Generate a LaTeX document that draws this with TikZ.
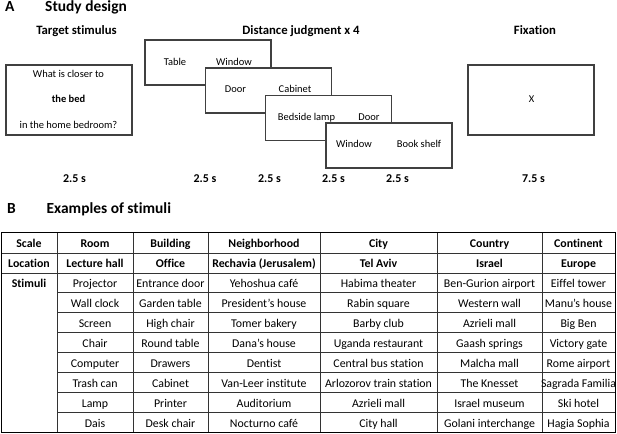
\documentclass[tikz,border=0pt]{standalone}
\usepackage{fontspec}
\setmainfont{Carlito}[Ligatures={TeX,NoCommon}]
\begin{document}
\begin{tikzpicture}[x=1bp,y=-1bp,
  scr/.style={draw=black!75,line width=1.2bp,fill=white,inner sep=0,outer sep=0,anchor=north west},
  boxtxt/.style={font=\fontsize{10.5}{12}\selectfont,inner sep=0,anchor=base},
  panel/.style={font=\fontsize{15.5}{18}\selectfont\bfseries,inner sep=0,anchor=base west},
  subhead/.style={font=\fontsize{12.8}{15}\selectfont\bfseries,inner sep=0,anchor=base},
  timetxt/.style={font=\fontsize{12}{14}\selectfont\bfseries,inner sep=0,anchor=base},
  cell/.style={font=\fontsize{11.9}{14}\selectfont,inner sep=0,anchor=base},
  grid/.style={draw=black!80,line width=0.9bp}]
\useasboundingbox[fill=white] (0,0) rectangle (617,434);

% ---------- Panel A ----------
\node[panel] (pA) at (5,12) {A};
\node[panel] (pAt) at (45,12) {Study design};

\node[subhead] (h1) at (76.5,35) {Target stimulus};
\node[subhead] (h2) at (301,35) {Distance judgment x 4};
\node[subhead] (h3) at (535,35) {Fixation};

% target stimulus screen
\node[scr,minimum width=126bp,minimum height=70bp] (target) at (6,65) {};
\node[boxtxt] (q1) at (68.5,78) {What is closer to};
\node[boxtxt] (q2) at (68.5,103) {\bfseries the bed};
\node[boxtxt] (q3) at (68.5,129) {in the home bedroom?};

% distance judgment screens
\node[scr,minimum width=126bp,minimum height=45bp] (d1) at (145,40) {};
\node[boxtxt] (d1a) at (175,66) {Table};
\node[boxtxt] (d1b) at (234,66) {Window};

\node[scr,minimum width=126bp,minimum height=45bp] (d2) at (205.5,68) {};
\node[boxtxt] (d2a) at (235.5,93) {Door};
\node[boxtxt] (d2b) at (295,93) {Cabinet};

\node[scr,minimum width=126bp,minimum height=45bp] (d3) at (265.5,95.5) {};
\node[boxtxt] (d3a) at (306.5,121) {Bedside lamp};
\node[boxtxt] (d3b) at (369,121) {Door};

\node[scr,minimum width=126bp,minimum height=45bp] (d4) at (326,123) {};
\node[boxtxt] (d4a) at (354,148) {Window};
\node[boxtxt] (d4b) at (419,148) {Book shelf};

% fixation screen
\node[scr,minimum width=126bp,minimum height=70bp] (fix) at (468,65) {};
\node[boxtxt] (fx) at (531.5,103) {X};

% timings
\node[timetxt] (t1) at (74.5,183) {2.5 s};
\node[timetxt] (t2) at (205,183) {2.5 s};
\node[timetxt] (t3) at (269.5,183) {2.5 s};
\node[timetxt] (t4) at (333.5,183) {2.5 s};
\node[timetxt] (t5) at (397.5,183) {2.5 s};
\node[timetxt] (t6) at (533.5,183) {7.5 s};

% ---------- Panel B ----------
\node[panel] (pB) at (7,214) {B};
\node[panel] (pBt) at (46.5,214) {Examples of stimuli};

% table grid
\foreach \xx in {57,133,208,320,437,542}
  \draw[grid] (\xx,233) -- (\xx,432);
\draw[grid] (1,253) -- (615,253);
\draw[grid] (1,273) -- (615,273);
\foreach \k in {3,...,9}
  \draw[grid] (57,{233+19.9*\k}) -- (615,{233+19.9*\k});
\draw[draw=black,line width=1bp] (1,233) rectangle (615,432);

% table text
\def\colx{{29,95,170.5,264,378.5,489.5,578.5}}
\foreach [count=\r] \row in {
  {Scale,Room,Building,Neighborhood,City,Country,Continent},
  {Location,Lecture hall,Office,Rechavia (Jerusalem),Tel Aviv,Israel,Europe},
  {Stimuli,Projector,Entrance door,Yehoshua café,Habima theater,Ben-Gurion airport,Eiffel tower}}{
  \foreach [count=\c] \txt in \row {
    \pgfmathsetmacro{\cx}{\colx[\c-1]}
    \node[cell] (c\r-\c) at (\cx,{233+19.9*(\r-1)+15}) {\ifnum\r<3 \bfseries\fi\ifnum\c=1 \bfseries\fi\txt};
  }
}
\foreach [count=\r from 4] \row in {
  {Wall clock,Garden table,President's house,Rabin square,Western wall,Manu's house},
  {Screen,High chair,Tomer bakery,Barby club,Azrieli mall,Big Ben},
  {Chair,Round table,Dana's house,Uganda restaurant,Gaash springs,Victory gate},
  {Computer,Drawers,Dentist,Central bus station,Malcha mall,Rome airport},
  {Trash can,Cabinet,Van-Leer institute,Arlozorov train station,The Knesset,Sagrada Familia},
  {Lamp,Printer,Auditorium,Azrieli mall,Israel museum,Ski hotel},
  {Dais,Desk chair,Nocturno café,City hall,Golani interchange,Hagia Sophia}}{
  \foreach [count=\c from 2] \txt in \row {
    \pgfmathsetmacro{\cx}{\colx[\c-1]}
    \node[cell] (c\r-\c) at (\cx,{233+19.9*(\r-1)+15}) {\txt};
  }
}
\end{tikzpicture}
\end{document}
